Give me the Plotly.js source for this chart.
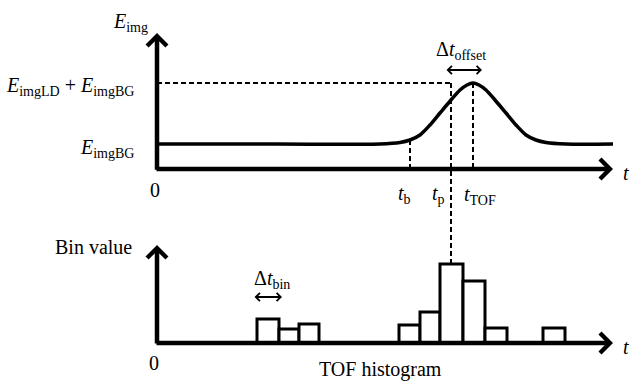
<!DOCTYPE html>
<html><head><meta charset="utf-8">
<script src="https://cdn.plot.ly/plotly-3.0.1.min.js"></script>
<style>html,body{margin:0;padding:0;background:#fff}#chart{width:630px;height:386px}</style>
</head><body><div id="chart"></div>
<script>
// ---------- Top panel: image energy vs time ----------
const curveTime   = [0, 12, 22.3, 24.3, 25.3, 26.3, 27.3, 28.3, 29.4, 30.3, 31.0, 31.6, 32.2, 32.9, 33.8, 34.9, 35.9, 36.9, 37.9, 38.9, 40.9, 45.6];
const curveEnergy = [1.0, 1.0, 1.0, 1.06, 1.16, 1.36, 1.76, 2.24, 2.76, 3.16, 3.36, 3.44, 3.36, 3.16, 2.76, 2.24, 1.76, 1.36, 1.16, 1.06, 1.0, 1.0];
const energyBG = 1.0;
const energyPeak = 3.44;
const timeB = 25.3;
const timeP = 29.4;
const timeTOF = 31.6;
const offsetArrow = [28.8, 32.5];

// ---------- Bottom panel: TOF histogram ----------
const binStart = [10.0, 12.2, 14.2, 24.2, 26.3, 28.3, 30.6, 32.8, 38.6];
const binEnd   = [12.2, 14.2, 16.2, 26.3, 28.3, 30.6, 32.8, 35.0, 40.8];
const binValue = [24, 14, 19, 18, 31, 79, 62, 15, 15];
const binArrow = [9.6, 12.5];

// ---------- text ----------
const labelEimg = '<i>E</i><sub>img</sub>';
const labelPeak = '<i>E</i><sub>imgLD</sub> + <i>E</i><sub>imgBG</sub>';
const labelBG = '<i>E</i><sub>imgBG</sub>';
const labelTb = '<i>t</i><sub>b</sub>';
const labelTp = '<i>t</i><sub>p</sub>';
const labelTtof = '<i>t</i><sub>TOF</sub>';
const labelOffset = 'Δ<i>t</i><sub>offset</sub>';
const labelBinW = 'Δ<i>t</i><sub>bin</sub>';
const labelBinValue = 'Bin value';
const labelHist = 'TOF histogram';

// ---------- geometry ----------
const W = 630, H = 386;
const xRange = [-15.7, 47.3];
const y1Range = [-8.68, 6.76];
const y2Range = [-43, 343];
const xTip = 45.6, y1Tip = 5.44, y2Tip = 98;

function y2to1(v) {
  const f = (v - y2Range[0]) / (y2Range[1] - y2Range[0]);
  return y1Range[0] + f * (y1Range[1] - y1Range[0]);
}
function P(px, py) { return {x: px / W, y: 1 - py / H}; }
function curveAt(t) { return curveEnergy[curveTime.indexOf(t)]; }

const dash = {color: 'black', width: 2, dash: '5px,3px'};
const traces = [
  {x: [0, timeP], y: [energyPeak, energyPeak], mode: 'lines', line: dash, hoverinfo: 'skip'},
  {x: [timeP, timeP], y: [energyPeak, y2to1(Math.max(...binValue))], mode: 'lines', line: dash, hoverinfo: 'skip'},
  {x: [timeTOF, timeTOF], y: [energyPeak, 0], mode: 'lines', line: dash, hoverinfo: 'skip'},
  {x: [timeB, timeB], y: [curveAt(timeB), 0], mode: 'lines', line: dash, hoverinfo: 'skip'},
  {x: curveTime, y: curveEnergy, mode: 'lines', line: {color: 'black', width: 3.5, shape: 'spline', smoothing: 0.8}},
  {type: 'bar', yaxis: 'y2',
   x: binStart.map((s, i) => (s + binEnd[i]) / 2),
   width: binStart.map((s, i) => binEnd[i] - s),
   y: binValue,
   marker: {color: 'white', line: {color: 'black', width: 3}}}
];

function arrow(x, y, ax, ay, yref, w, size, both) {
  const a = {x: x, y: y, ax: ax, ay: ay, xref: 'x', yref: yref, axref: 'x', ayref: yref,
    text: '', showarrow: true, arrowhead: 4, arrowsize: size, arrowwidth: w, arrowcolor: 'black', standoff: 0};
  if (both) { a.arrowside = 'end+start'; a.startarrowhead = 4; a.startarrowsize = size; a.startstandoff = 0; }
  return a;
}
function label(text, px, py, xanchor, extra) {
  const p = P(px, py);
  return Object.assign({text: text, x: p.x, y: p.y, xref: 'paper', yref: 'paper', showarrow: false,
    xanchor: xanchor || 'center', yanchor: 'middle'}, extra || {});
}

const annotations = [
  arrow(xTip, 0, -0.2, 0, 'y', 4.5, 0.85, false),
  arrow(0, y1Tip, 0, -0.09, 'y', 4.5, 0.85, false),
  arrow(xTip, 0, -0.2, 0, 'y2', 4.5, 0.85, false),
  arrow(0, y2Tip, 0, -2, 'y2', 4.5, 0.85, false),
  arrow(offsetArrow[1], 3.96, offsetArrow[0], 3.96, 'y', 2, 0.8, true),
  arrow(binArrow[1], 46, binArrow[0], 46, 'y2', 2, 0.8, true),
  label(labelEimg, 130, 23),
  label(labelPeak, 136, 86, 'right'),
  label(labelBG, 136, 148, 'right'),
  label('0', 155, 190),
  label('<i>t</i>', 626, 173),
  label(labelTb, 404, 194),
  label(labelTp, 438, 194),
  label(labelTtof, 480, 195),
  label(labelOffset, 461, 50),
  label(labelBinValue, 93, 247),
  label(labelBinW, 272, 279),
  label('0', 154, 363),
  label('<i>t</i>', 626, 347),
  label(labelHist, 380, 369)
];

const layout = {
  width: W, height: H, margin: {l: 0, r: 0, t: 0, b: 0, pad: 0},
  paper_bgcolor: 'white', plot_bgcolor: 'rgba(0,0,0,0)', showlegend: false,
  font: {family: '"Liberation Serif", "Times New Roman", serif', size: 20, color: 'black'},
  xaxis: {range: xRange, visible: false},
  yaxis: {range: y1Range, visible: false},
  yaxis2: {range: y2Range, visible: false, overlaying: 'y'},
  bargap: 0,
  annotations: annotations
};
Plotly.newPlot('chart', traces, layout, {staticPlot: true});
</script></body></html>
